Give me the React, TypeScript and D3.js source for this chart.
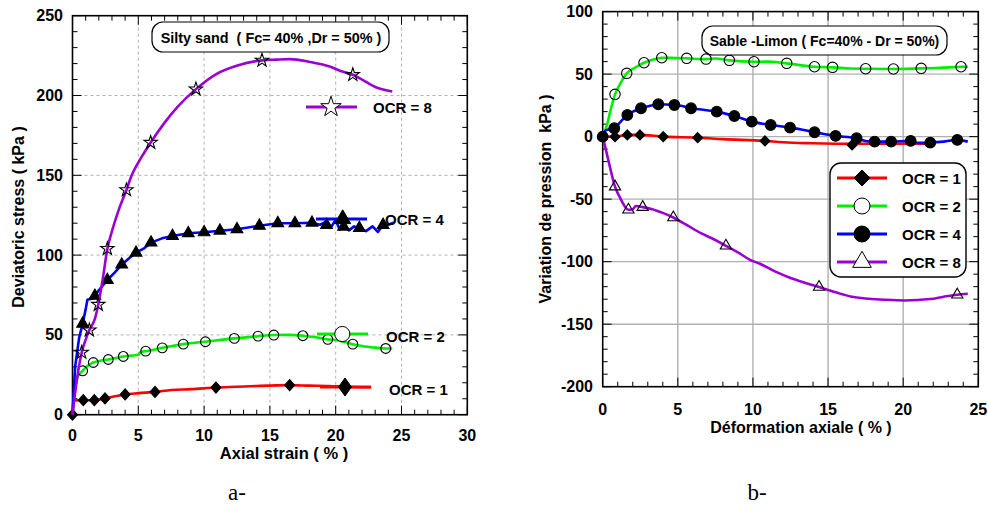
import React from "react";
import * as d3 from "d3";

// ---------- Data: chart a (deviatoric stress vs axial strain) ----------
const devXTicks = [0, 5, 10, 15, 20, 25, 30];
const devYTicks = [0, 50, 100, 150, 200, 250];

const devOcr1Curve: [number, number][] = [
  [0, 0], [0.1, 9], [0.82, 9.1], [1.66, 9.1], [2.47, 10.2], [3.2, 11.5], [4, 12.7], [5, 13.5],
  [6.27, 14.3], [7.5, 15.5], [9, 16], [10.9, 17], [12.5, 17.5], [14, 18], [16.5, 18.5], [18, 18.2],
  [19.5, 18], [20.7, 17.5], [22.7, 17.2],
];
const devOcr1Marks: [number, number][] = [
  [0, 0], [0.82, 9.1], [1.66, 9.1], [2.47, 10.2], [4, 12.7], [6.27, 14.3], [10.9, 17], [16.5, 18.5],
];

const devOcr2Curve: [number, number][] = [
  [0, 0], [0.15, 15], [0.4, 24], [0.77, 27.5], [1.2, 31], [1.58, 32.7], [2.2, 34], [2.72, 34.6],
  [3.3, 35.5], [3.86, 36.5], [4.5, 37], [5.0, 37.5], [5.2, 39.5], [5.56, 39.8], [6.82, 41.9],
  [8.42, 44.2], [10.1, 45.7], [12.3, 47.8], [14.1, 49.2], [15.3, 49.9], [16.5, 50], [17.5, 49.5],
  [18.5, 48.5], [19.4, 47.2], [20.2, 46.5], [20.7, 45.5], [21.3, 44.2], [22, 43], [23, 42],
  [23.8, 41.5], [24.3, 41.5],
];
const devOcr2Marks: [number, number][] = [
  [0.77, 27.5], [1.58, 32.7], [2.72, 34.6], [3.86, 36.5], [5.56, 39.8], [6.82, 41.9], [8.42, 44.2],
  [10.1, 45.7], [12.3, 47.8], [14.1, 49.2], [15.3, 49.9], [17.5, 49.5], [19.4, 47.2], [21.3, 44.2],
  [23.8, 41.5],
];

const devOcr4Curve: [number, number][] = [
  [0, 0], [0.2, 30], [0.5, 48], [0.77, 57], [1.0, 66], [1.13, 72], [1.6, 73], [1.7, 74.5], [2.0, 78],
  [2.65, 84.4], [3.2, 89], [3.74, 94], [4.3, 98], [4.83, 101.5], [5.4, 104], [5.97, 107.8],
  [6.8, 110.5], [7.6, 112], [8.8, 113.7], [10, 114.3], [11.2, 115.3], [12.5, 116.2], [14.2, 118.4],
  [15.6, 120], [16.9, 120], [18.2, 120.3], [18.8, 119], [19.3, 121], [19.6, 117], [20.0, 122],
  [20.3, 116], [20.6, 119], [21, 115.5], [21.4, 118], [21.8, 117], [22.3, 115], [22.8, 118],
  [23.2, 114.5], [23.6, 118.9], [24.0, 119], [24.4, 120.3],
];
const devOcr4Marks: [number, number][] = [
  [0.77, 57], [1.7, 74.5], [2.65, 84.4], [3.74, 94], [4.83, 101.5], [5.97, 107.8], [7.6, 112],
  [8.8, 113.7], [10, 114.3], [11.2, 115.3], [12.5, 116.2], [14.2, 118.4], [15.6, 120], [16.9, 120],
  [18.2, 120.3], [19.3, 118.9], [20.6, 117.8], [21.8, 117], [23.6, 118.9],
];

const devOcr8Curve: [number, number][] = [
  [0, 0], [0.3, 20], [0.7, 39], [1.0, 47], [1.28, 53], [1.7, 60], [1.96, 69], [2.3, 85], [2.65, 104],
  [3, 115], [3.5, 128], [4.1, 140.8], [4.5, 150], [5.0, 158], [5.94, 170.5], [7, 183], [8, 193],
  [9.38, 204], [10.96, 213.6], [12.6, 219], [14.4, 222], [15.5, 222.5], [16.5, 222.8], [18.05, 221],
  [19.6, 218], [20.5, 215], [21.3, 213], [22, 210], [23.1, 205], [24.3, 202.5],
];
const devOcr8Marks: [number, number][] = [
  [0.7, 39], [1.28, 53], [1.96, 69], [2.65, 104], [4.1, 140.8], [5.94, 170.5], [9.38, 204],
  [14.4, 222], [21.3, 213],
];

// ---------- Data: chart b (pore pressure variation vs axial strain) ----------
const ppXTicks = [0, 5, 10, 15, 20, 25];
const ppYTicks = [-200, -150, -100, -50, 0, 50, 100];

const ppOcr1Curve: [number, number][] = [
  [0, 0], [0.82, 0], [1.64, 1.4], [2.48, 1.4], [4.03, 0], [6.32, -0.8], [8, -2], [10.8, -3.4],
  [12, -4.5], [14, -5.3], [16.6, -5.8], [18, -5.6], [21.5, -5.6],
];
const ppOcr1Marks: [number, number][] = [
  [0, 0], [0.82, 0], [1.64, 1.4], [2.48, 1.4], [4.03, 0], [6.32, -0.8], [10.8, -3.4], [16.6, -6.6],
];

const ppOcr2Curve: [number, number][] = [
  [0, 0], [0.3, 10], [0.5, 20], [0.82, 33.8], [1.2, 43], [1.6, 50.6], [2.2, 55.5], [2.75, 59.1],
  [3.3, 61.5], [3.93, 63.1], [4.5, 63], [5.59, 62.6], [6.88, 62], [7.5, 62.5], [8.43, 61],
  [10.07, 59.9], [11, 60], [12.25, 58.6], [14.1, 55.9], [15.3, 55.4], [16.5, 54.5], [17.5, 54.3],
  [19.35, 54.1], [21.2, 54.6], [22.5, 55], [23.85, 55.9], [24.3, 55.9],
];
const ppOcr2Marks: [number, number][] = [
  [0.82, 33.8], [1.6, 50.6], [2.75, 59.1], [3.93, 63.1], [5.59, 62.6], [6.88, 62], [8.43, 61],
  [10.07, 59.9], [12.25, 58.6], [14.1, 55.9], [15.3, 55.4], [17.5, 54.3], [19.35, 54.1],
  [21.2, 54.6], [23.85, 55.9],
];

const ppOcr4Curve: [number, number][] = [
  [0, 0], [0.2, 5], [0.77, 6.7], [1.2, 12], [1.64, 17.3], [2.1, 20.5], [2.55, 22.7], [3.1, 24.5],
  [3.7, 25.9], [4.77, 25.3], [5.3, 24.5], [5.88, 22.7], [6.7, 21.5], [7.59, 20], [8.76, 16.5],
  [9.92, 12], [11.18, 9.3], [12.47, 7.2], [13.3, 5.5], [14.1, 3.5], [15.5, 0.6], [16.9, -1.3],
  [17.5, -3.5], [18.1, -4], [19.2, -4], [20.5, -3.4], [21, -5], [21.8, -4.8], [22.7, -4],
  [23.6, -2.6], [24.3, -4],
];
const ppOcr4Marks: [number, number][] = [
  [0, 0], [0.77, 6.7], [1.64, 17.3], [2.55, 22.7], [3.7, 25.9], [4.77, 25.3], [5.88, 22.7],
  [7.59, 20], [8.76, 16.5], [9.92, 12], [11.18, 9.3], [12.47, 7.2], [14.1, 3.5], [15.5, 0.6],
  [16.9, -1.3], [18.1, -4], [19.2, -4], [20.5, -3.4], [21.8, -4.8], [23.6, -2.6],
];

const ppOcr8Curve: [number, number][] = [
  [0, 0], [0.3, -15], [0.82, -40], [1.2, -50], [1.71, -58.5], [2.0, -58], [2.2, -55.5],
  [2.66, -56.4], [3.3, -58], [4.0, -61], [4.7, -64.7], [5.5, -70], [6.5, -77], [7.3, -81.5],
  [8.2, -87.3], [9.0, -92.5], [9.8, -98.5], [10.47, -101.7], [11.5, -108], [12.5, -113],
  [13.5, -117], [14.4, -120.3], [15.5, -124.5], [16.5, -127.8], [17.5, -129.5], [18.7, -130.4],
  [20.1, -131], [21.8, -129.9], [22.7, -128], [23.6, -126.4], [24.3, -125.6],
];
const ppOcr8Marks: [number, number][] = [
  [0.82, -40], [1.71, -58.5], [2.66, -56.4], [4.7, -64.7], [8.2, -87.3], [14.4, -120.3], [23.6, -126.4],
];

const legendLabels = ["OCR = 1", "OCR = 2", "OCR = 4", "OCR = 8"];
const seriesColors = ["#ff0000", "#00ee00", "#0000ff", "#9b00d3"];

// ---------- helpers ----------
const FONT = "Arial, 'Liberation Sans', sans-serif";

type Scale = d3.ScaleLinear<number, number>;
type Marker = { kind: "sym"; type: d3.SymbolType; size: number } | { kind: "dia"; w: number; h: number };

function markerPath(m: Marker) {
  if (m.kind === "dia") {
    const p = d3.path();
    p.moveTo(0, -m.h / 2);
    p.lineTo(m.w / 2, 0);
    p.lineTo(0, m.h / 2);
    p.lineTo(-m.w / 2, 0);
    p.closePath();
    return p.toString();
  }
  return d3.symbol().type(m.type).size(m.size)() || "";
}

function Frame({ x, y, xMajor, yMajor, xMinorStep, yMinorStep, dashed }: {
  x: Scale; y: Scale; xMajor: number[]; yMajor: number[]; xMinorStep: number; yMinorStep: number; dashed: boolean;
}) {
  const [x0, x1] = x.range();
  const [y0, y1] = y.range();
  const [dx0, dx1] = x.domain();
  const [dy0, dy1] = y.domain();
  const xMinor = d3.range(dx0, dx1 + 1e-9, xMinorStep);
  const yMinor = d3.range(dy0, dy1 + 1e-9, yMinorStep);
  const gridStroke = dashed ? "#a8a8a8" : "#b0b0b0";
  const isMajor = (v: number, arr: number[]) => arr.some((a) => Math.abs(a - v) < 1e-6);
  return (
    <g>
      {xMajor.slice(1, -1).map((v) => (
        <line key={"gx" + v} x1={x(v)} x2={x(v)} y1={y0} y2={y1} stroke={gridStroke}
          strokeWidth={dashed ? 0.9 : 1.4} strokeDasharray={dashed ? "3,3" : undefined} />
      ))}
      {yMajor.slice(1, -1).map((v) => (
        <line key={"gy" + v} x1={x0} x2={x1} y1={y(v)} y2={y(v)} stroke={gridStroke}
          strokeWidth={dashed ? 0.9 : 1.4} strokeDasharray={dashed ? "3,3" : undefined} />
      ))}
      {xMinor.map((v) => {
        const len = isMajor(v, xMajor) ? 9 : 5;
        return (
          <g key={"tx" + v}>
            <line x1={x(v)} x2={x(v)} y1={y0} y2={y0 - len} stroke="#000" strokeWidth={1} />
            <line x1={x(v)} x2={x(v)} y1={y1} y2={y1 + len} stroke="#000" strokeWidth={1} />
          </g>
        );
      })}
      {yMinor.map((v) => {
        const len = isMajor(v, yMajor) ? 9 : 5;
        return (
          <g key={"ty" + v}>
            <line x1={x0} x2={x0 + len} y1={y(v)} y2={y(v)} stroke="#000" strokeWidth={1} />
            <line x1={x1} x2={x1 - len} y1={y(v)} y2={y(v)} stroke="#000" strokeWidth={1} />
          </g>
        );
      })}
      <rect x={x0} y={y1} width={x1 - x0} height={y0 - y1} fill="none" stroke="#000" strokeWidth={1.6} />
    </g>
  );
}

function TickLabels({ x, y, xTicks, yTicks, xLabelY, yLabelX }: {
  x: Scale; y: Scale; xTicks: number[]; yTicks: number[]; xLabelY: number; yLabelX: number;
}) {
  return (
    <g fontFamily={FONT} fontWeight="bold" fontSize={16} fill="#000">
      {xTicks.map((v) => (
        <text key={"xl" + v} x={x(v)} y={xLabelY} textAnchor="middle" dominantBaseline="central">{v}</text>
      ))}
      {yTicks.map((v) => (
        <text key={"yl" + v} x={yLabelX} y={y(v)} textAnchor="end" dominantBaseline="central">{v}</text>
      ))}
    </g>
  );
}

function Series({ x, y, curve, marks, color, marker, fill, smooth }: {
  x: Scale; y: Scale; curve: [number, number][]; marks: [number, number][]; color: string;
  marker: Marker; fill: string; smooth: boolean;
}) {
  const line = d3.line<[number, number]>().x((d) => x(d[0])).y((d) => y(d[1]))
    .curve(smooth ? d3.curveMonotoneX : d3.curveLinear);
  const p = markerPath(marker);
  return (
    <g>
      <path d={line(curve) || ""} fill="none" stroke={color} strokeWidth={2.6} strokeLinejoin="round" />
      {marks.map((d, i) => (
        <path key={i} d={p} transform={`translate(${x(d[0])},${y(d[1])})`} fill={fill} stroke="#000" strokeWidth={1.1} />
      ))}
    </g>
  );
}

export default function App() {
  const ax = d3.scaleLinear().domain([0, 30]).range([72.5, 467.3]);
  const ay = d3.scaleLinear().domain([0, 250]).range([414.7, 15.7]);
  const bx = d3.scaleLinear().domain([0, 25]).range([602.7, 978.3]);
  const by = d3.scaleLinear().domain([-200, 100]).range([386.7, 11.6]);

  const star = (size: number): Marker => ({ kind: "sym", type: d3.symbolStar, size });
  const tri = (size: number): Marker => ({ kind: "sym", type: d3.symbolTriangle, size });
  const circ = (size: number): Marker => ({ kind: "sym", type: d3.symbolCircle, size });
  const dia = (w: number, h: number): Marker => ({ kind: "dia", w, h });

  const leftLegend = [
    { label: legendLabels[3], color: seriesColors[3], x1: 306, x2: 357, mx: 331, y: 107, ty: 107, tx: 373, m: star(130), fill: "#fff" },
    { label: legendLabels[2], color: seriesColors[2], x1: 316, x2: 367, mx: 342.7, y: 219, ty: 219, tx: 385, m: tri(110), fill: "#000" },
    { label: legendLabels[1], color: seriesColors[1], x1: 317, x2: 368, mx: 342.3, y: 334, ty: 336, tx: 386, m: circ(180), fill: "#fff" },
    { label: legendLabels[0], color: seriesColors[0], x1: 320, x2: 370.7, mx: 345, y: 387, ty: 389, tx: 389, m: dia(13, 18), fill: "#000" },
  ];

  const rightLegendMarkers = [dia(16, 16), circ(200), circ(200), tri(150)];
  const rightLegendFills = ["#000", "#fff", "#000", "#fff"];

  return (
    <svg width={988} height={513} style={{ position: "absolute", left: 0, top: 0, background: "#fff" }}>
      <rect x={0} y={0} width={988} height={513} fill="#fff" />

      {/* ---------- Chart a ---------- */}
      <Frame x={ax} y={ay} xMajor={devXTicks} yMajor={devYTicks} xMinorStep={1} yMinorStep={10} dashed={true} />
      <Series x={ax} y={ay} curve={devOcr1Curve} marks={devOcr1Marks} color={seriesColors[0]} marker={dia(10, 11)} fill="#000" smooth={true} />
      <Series x={ax} y={ay} curve={devOcr2Curve} marks={devOcr2Marks} color={seriesColors[1]} marker={circ(75)} fill="none" smooth={true} />
      <Series x={ax} y={ay} curve={devOcr4Curve} marks={devOcr4Marks} color={seriesColors[2]} marker={tri(60)} fill="#000" smooth={false} />
      <Series x={ax} y={ay} curve={devOcr8Curve} marks={devOcr8Marks} color={seriesColors[3]} marker={star(55)} fill="none" smooth={true} />

      {leftLegend.map((l) => (
        <g key={l.label}>
          <line x1={l.x1} x2={l.x2} y1={l.y} y2={l.y} stroke={l.color} strokeWidth={3} />
          <path d={markerPath(l.m)} transform={`translate(${l.mx},${l.y})`} fill={l.fill} stroke="#000" strokeWidth={1} />
          <text x={l.tx} y={l.ty} fontFamily={FONT} fontWeight="bold" fontSize={15} dominantBaseline="central">{l.label}</text>
        </g>
      ))}

      <rect x={152} y={22} width={237} height={30} rx={11} fill="#fff" stroke="#000" strokeWidth={1.2} />
      <text x={271} y={37.5} textAnchor="middle" dominantBaseline="central" fontFamily={FONT} fontWeight="bold" fontSize={14.4}
        style={{ whiteSpace: "pre" }}>
        {"Silty sand  ( Fc= 40% ,Dr = 50% )"}
      </text>

      <TickLabels x={ax} y={ay} xTicks={devXTicks} yTicks={devYTicks} xLabelY={435} yLabelX={63} />
      <text x={284} y={453} textAnchor="middle" dominantBaseline="central" fontFamily={FONT} fontWeight="bold" fontSize={16.5}>
        Axial strain ( % )
      </text>
      <text transform="translate(18,217) rotate(-90)" textAnchor="middle" dominantBaseline="central" fontFamily={FONT} fontWeight="bold" fontSize={16}>
        Deviatoric stress ( kPa )
      </text>
      <text x={237} y={492} textAnchor="middle" dominantBaseline="central" fontFamily="'Liberation Serif', 'Times New Roman', serif" fontSize={23}>a-</text>

      {/* ---------- Chart b ---------- */}
      <Frame x={bx} y={by} xMajor={ppXTicks} yMajor={ppYTicks} xMinorStep={1} yMinorStep={10} dashed={false} />
      <Series x={bx} y={by} curve={ppOcr8Curve} marks={ppOcr8Marks} color={seriesColors[3]} marker={tri(55)} fill="none" smooth={true} />
      <Series x={bx} y={by} curve={ppOcr2Curve} marks={ppOcr2Marks} color={seriesColors[1]} marker={circ(85)} fill="none" smooth={true} />
      <Series x={bx} y={by} curve={ppOcr1Curve} marks={ppOcr1Marks} color={seriesColors[0]} marker={dia(10, 10)} fill="#000" smooth={true} />
      <Series x={bx} y={by} curve={ppOcr4Curve} marks={ppOcr4Marks} color={seriesColors[2]} marker={circ(90)} fill="#000" smooth={true} />

      <rect x={702} y={26} width={245} height={29} rx={11} fill="#fff" stroke="#000" strokeWidth={1.2} />
      <text x={824.5} y={41} textAnchor="middle" dominantBaseline="central" fontFamily={FONT} fontWeight="bold" fontSize={14}>
        {"Sable -Limon ( Fc=40% - Dr = 50%)"}
      </text>

      <rect x={830} y={163} width={136} height={114} rx={11} fill="#fff" stroke="#000" strokeWidth={1.4} />
      {legendLabels.map((lab, i) => {
        const yy = 178 + i * 28;
        return (
          <g key={lab}>
            <line x1={837} x2={887} y1={yy} y2={yy} stroke={seriesColors[i]} strokeWidth={3} />
            <path d={markerPath(rightLegendMarkers[i])} transform={`translate(862,${yy})`}
              fill={rightLegendFills[i]} stroke="#000" strokeWidth={1} />
            <text x={902} y={yy} dominantBaseline="central" fontFamily={FONT} fontWeight="bold" fontSize={15}>{lab}</text>
          </g>
        );
      })}

      <TickLabels x={bx} y={by} xTicks={ppXTicks} yTicks={ppYTicks} xLabelY={409} yLabelX={593} />
      <text x={801} y={427} textAnchor="middle" dominantBaseline="central" fontFamily={FONT} fontWeight="bold" fontSize={16}>
        Déformation axiale ( % )
      </text>
      <text transform="translate(545,199) rotate(-90)" textAnchor="middle" dominantBaseline="central" fontFamily={FONT} fontWeight="bold" fontSize={16}
        style={{ whiteSpace: "pre" }}>
        {"Variation de pression  kPa )"}
      </text>
      <text x={757} y={492} textAnchor="middle" dominantBaseline="central" fontFamily="'Liberation Serif', 'Times New Roman', serif" fontSize={23}>b-</text>
    </svg>
  );
}
